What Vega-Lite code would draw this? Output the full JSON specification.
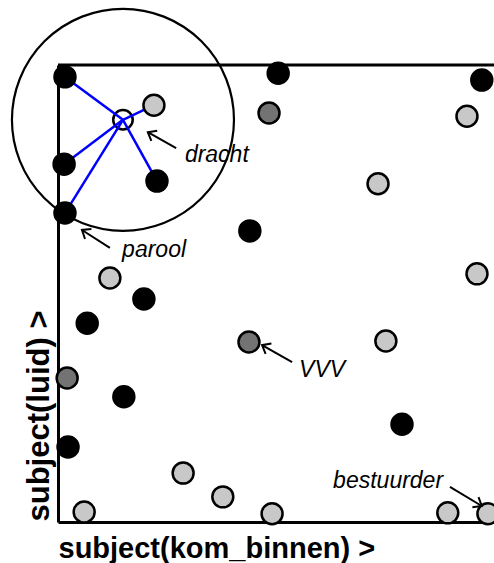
{
  "$schema": "https://vega.github.io/schema/vega-lite/v6.json",
  "width": 436,
  "height": 457,
  "autosize": {"type": "none"},
  "padding": {"left": 58, "top": 65, "right": 0, "bottom": 41},
  "background": "white",
  "config": {"view": {"stroke": null}},
  "datasets": {
    "frame": [{"x": 0, "y": 100, "xe": 100}],
    "points": [
      {"x": 1.6, "y": 97.4, "kind": "black"},
      {"x": 50.5, "y": 98.2, "kind": "black"},
      {"x": 97.2, "y": 96.7, "kind": "black"},
      {"x": 48.4, "y": 89.5, "kind": "dark"},
      {"x": 22.0, "y": 91.2, "kind": "light"},
      {"x": 93.8, "y": 88.8, "kind": "light"},
      {"x": 1.4, "y": 78.3, "kind": "black"},
      {"x": 22.7, "y": 74.6, "kind": "black"},
      {"x": 73.4, "y": 74.0, "kind": "light"},
      {"x": 1.6, "y": 67.6, "kind": "black"},
      {"x": 44.0, "y": 63.7, "kind": "black"},
      {"x": 11.9, "y": 53.4, "kind": "light"},
      {"x": 19.7, "y": 48.8, "kind": "black"},
      {"x": 96.1, "y": 54.3, "kind": "light"},
      {"x": 6.7, "y": 43.5, "kind": "black"},
      {"x": 43.8, "y": 39.4, "kind": "dark"},
      {"x": 75.2, "y": 39.6, "kind": "light"},
      {"x": 2.1, "y": 31.5, "kind": "dark"},
      {"x": 15.1, "y": 27.4, "kind": "black"},
      {"x": 78.9, "y": 21.4, "kind": "black"},
      {"x": 2.3, "y": 16.4, "kind": "black"},
      {"x": 28.7, "y": 10.7, "kind": "light"},
      {"x": 37.8, "y": 5.5, "kind": "light"},
      {"x": 6.0, "y": 2.2, "kind": "light"},
      {"x": 49.1, "y": 1.8, "kind": "light"},
      {"x": 89.4, "y": 2.0, "kind": "light"},
      {"x": 98.6, "y": 1.8, "kind": "light"}
    ],
    "query": [{"x": 14.9, "y": 88.0}],
    "segments": [
      {"x": 14.9, "y": 88.0, "xe": 1.6, "ye": 97.4},
      {"x": 14.9, "y": 88.0, "xe": 22.0, "ye": 91.2},
      {"x": 14.9, "y": 88.0, "xe": 1.4, "ye": 78.3},
      {"x": 14.9, "y": 88.0, "xe": 22.7, "ye": 74.6},
      {"x": 14.9, "y": 88.0, "xe": 1.6, "ye": 67.6}
    ],
    "arrows": [
      {"x": 27.1, "y": 81.8, "xe": 20.6, "ye": 85.3},
      {"x": 11.9, "y": 60.0, "xe": 5.5, "ye": 63.9},
      {"x": 53.7, "y": 35.0, "xe": 46.8, "ye": 38.7},
      {"x": 89.9, "y": 7.7, "xe": 97.2, "ye": 3.5}
    ],
    "labels": [
      {"x": 29.1, "y": 78.8, "label": "dracht"},
      {"x": 14.7, "y": 58.0, "label": "parool"},
      {"x": 55.3, "y": 31.7, "label": "VVV"},
      {"x": 63.1, "y": 7.4, "label": "bestuurder"}
    ]
  },
  "encoding": {
    "x": {
      "field": "x", "type": "quantitative",
      "scale": {"domain": [0, 100], "nice": false, "zero": false},
      "axis": {
        "domain": true, "domainColor": "black", "domainWidth": 3,
        "ticks": false, "labels": false, "grid": false,
        "title": "subject(kom_binnen) >",
        "titleFont": "Liberation Sans", "titleFontSize": 29, "titleFontWeight": "bold",
        "titleColor": "black", "titleAlign": "left", "titleBaseline": "alphabetic",
        "titleAnchor": "start", "titleX": 0, "titleY": 35
      }
    },
    "y": {
      "field": "y", "type": "quantitative",
      "scale": {"domain": [0, 100], "nice": false, "zero": false},
      "axis": {
        "domain": true, "domainColor": "black", "domainWidth": 3,
        "ticks": false, "labels": false, "grid": false,
        "title": "subject(luid) >",
        "titleFont": "Liberation Sans", "titleFontSize": 31, "titleFontWeight": "bold",
        "titleColor": "black", "titleAngle": 270, "titleAlign": "left", "titleBaseline": "alphabetic",
        "titleAnchor": "start", "titleX": -10, "titleY": 456
      }
    }
  },
  "layer": [
    {
      "data": {"name": "frame"},
      "mark": {"type": "rule", "color": "black", "strokeWidth": 3},
      "encoding": {"x2": {"field": "xe"}}
    },
    {
      "data": {"name": "query"},
      "mark": {"type": "point", "shape": "circle", "filled": false, "size": 49300, "stroke": "black", "strokeWidth": 2.2, "opacity": 1}
    },
    {
      "data": {"name": "query"},
      "mark": {"type": "point", "shape": "circle", "filled": true, "fill": "white", "size": 380, "stroke": "black", "strokeWidth": 2.5, "opacity": 1}
    },
    {
      "data": {"name": "segments"},
      "mark": {"type": "rule", "color": "#0000ff", "strokeWidth": 2.5},
      "encoding": {"x2": {"field": "xe"}, "y2": {"field": "ye"}}
    },
    {
      "data": {"name": "points"},
      "mark": {"type": "point", "shape": "circle", "filled": true, "size": 440, "stroke": "black", "strokeWidth": 2.5, "opacity": 1},
      "encoding": {
        "color": {
          "field": "kind", "type": "nominal",
          "scale": {"domain": ["black", "dark", "light"], "range": ["#000000", "#737373", "#c8c8c8"]},
          "legend": null
        }
      }
    },
    {
      "data": {"name": "arrows"},
      "mark": {"type": "rule", "color": "black", "strokeWidth": 2},
      "encoding": {"x2": {"field": "xe"}, "y2": {"field": "ye"}}
    },
    {
      "data": {"name": "arrows"},
      "transform": [
        {"calculate": "atan2(-(datum.ye - datum.y) * 4.57, (datum.xe - datum.x) * 4.36) * 180 / PI", "as": "ang"}
      ],
      "mark": {"type": "point", "shape": "M -1 -0.8 L 0 0 L -1 0.8", "filled": false, "size": 220, "stroke": "black", "strokeWidth": 2, "opacity": 1},
      "encoding": {
        "x": {"field": "xe", "type": "quantitative"},
        "y": {"field": "ye", "type": "quantitative"},
        "angle": {"field": "ang", "type": "quantitative", "scale": null}
      }
    },
    {
      "data": {"name": "labels"},
      "mark": {"type": "text", "align": "left", "baseline": "alphabetic", "font": "Liberation Sans", "fontStyle": "italic", "fontSize": 23, "color": "black"},
      "encoding": {"text": {"field": "label"}}
    }
  ]
}
